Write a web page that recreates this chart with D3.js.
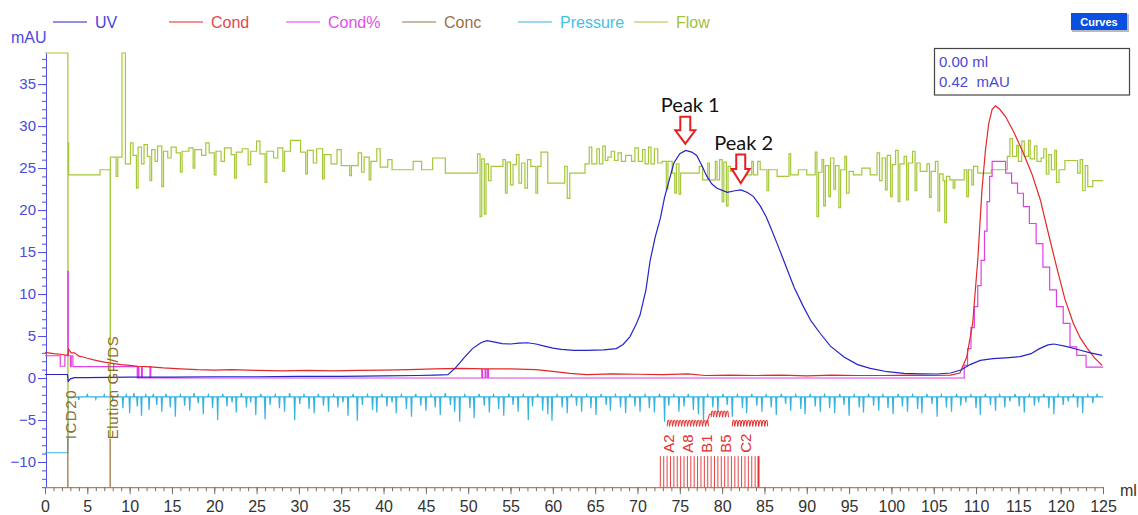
<!DOCTYPE html>
<html>
<head>
<meta charset="utf-8">
<script src="https://cdn.jsdelivr.net/npm/d3@7/dist/d3.min.js"></script>
<style>
    body { margin: 0; background: #fff; }
    svg { font-family: "Liberation Sans", Arial, sans-serif; }
</style>
</head>
<body>
<svg id="chart" width="1138" height="515"></svg>
<script>
// ---- data (ml, value) ----
const uv = [[0,0.42],[2.65,0.42],[2.75,-0.4],[3,-0.1],[3.5,0.05],[5,0.05],[10,0.1],[15,0.1],[20,0.15],[25,0.15],[30,0.2],[35,0.2],[40,0.25],[44,0.3],[46,0.35],[47.6,0.4],[48.5,1.2],[49.5,2.4],[50.5,3.5],[51.5,4.2],[52.2,4.45],[53,4.3],[54,4.1],[55,4.05],[56,4.15],[57,4.2],[58,4.05],[59,3.8],[60,3.55],[61,3.4],[62.5,3.3],[64,3.3],[66,3.35],[67.5,3.5],[68.3,4.0],[69.1,4.9],[69.8,6.3],[70.3,7.5],[71,10.5],[71.5,14],[72.1,16.8],[72.7,19],[73.2,21.5],[73.6,23],[74.3,25.6],[75,26.7],[75.7,27.1],[76.4,26.9],[77,26.5],[77.6,25.3],[78.2,24],[78.8,23.1],[79.4,22.6],[80.6,22.1],[81.5,22.3],[82.2,22.4],[83,22.1],[83.7,21.6],[84.5,20.5],[85.2,19.2],[85.7,18],[86.5,16],[87.2,14.2],[87.7,12.9],[88.5,10.8],[89.6,8.5],[90.5,6.8],[91.6,5.3],[92.8,3.8],[94.4,2.5],[96,1.6],[97.5,1.15],[99.5,0.75],[101.5,0.55],[103.5,0.5],[105.4,0.48],[107,0.6],[108.2,0.95],[109.3,1.6],[110.5,2.1],[112,2.3],[113.5,2.4],[115.2,2.55],[116.5,2.9],[117.5,3.5],[118.5,3.95],[119.2,4.05],[120.5,3.8],[122,3.4],[123.5,3.0],[124.9,2.7]];

const cond = [[0,3.05],[1,2.9],[2,2.8],[2.7,2.7],[2.8,3.4],[3.1,3.0],[3.5,3.0],[4,2.6],[4.5,2.5],[5,2.35],[6,2.1],[7,1.9],[8,1.75],[9,1.6],[10,1.5],[11,1.4],[12,1.35],[14,1.2],[16,1.1],[18,1.0],[20,0.95],[22,1.0],[25,0.9],[28,0.85],[31,0.9],[34,0.85],[37,0.9],[40,0.95],[43,1.0],[46,1.1],[49,1.15],[52,1.1],[55,1.1],[58,1.0],[60,0.8],[62,0.55],[64,0.4],[67,0.5],[70,0.45],[73,0.4],[76,0.5],[78,0.3],[81,0.35],[84,0.3],[87,0.35],[90,0.25],[93,0.35],[96,0.3],[99,0.3],[102,0.35],[105,0.3],[107,0.35],[108.1,0.6],[108.9,2.5],[109.6,6.5],[110.2,14],[110.7,22.4],[111.1,27],[111.5,30.3],[111.9,32.0],[112.3,32.4],[112.8,32.0],[113.5,31.1],[114.5,29.2],[115.5,27.0],[116.6,24.3],[117.6,21.2],[118.6,17],[119.6,12.9],[120.5,9.4],[121.5,6.5],[122.3,4.8],[123.1,3.6],[124,2.4],[124.9,1.5]];

const condPct = [[0,2.65],[1.8,1.4],[2.35,2.65],[2.7,12.7],[2.75,2.65],[3.0,1.35],[3.1,2.65],[3.3,1.35],[10.9,0],[11.0,1.35],[11.1,0],[11.4,1.35],[11.5,0],[12.4,1.35],[12.5,0],[51.6,1.0],[51.7,0],[52.0,1.0],[52.1,0],[52.3,1.0],[52.4,0],[108.6,1.5],[109.0,3.5],[109.4,6],[109.8,8.5],[110.2,11],[110.6,14],[111.0,17.5],[111.3,21],[111.6,24],[111.9,25.8],[113.5,24.4],[114.2,23.2],[114.9,22],[115.6,20.4],[116.3,18.4],[117.1,16],[117.9,13.2],[118.7,10.5],[119.5,8.5],[120.3,6.5],[121.1,3.7],[121.9,2.7],[123.0,1.3],[125,1.3]];

const flow = [[0,38.7],[2.7,-7],[2.72,28],[2.8,24.2],[6.5,24.8],[7.7,-7],[7.72,26.3],[8.4,24],[8.6,26.3],[9.1,38.7],[9.5,25.5],[10.1,28],[10.4,26.5],[10.8,22.6],[11.0,27.5],[11.4,25.5],[11.7,27.8],[12.1,26.4],[12.4,23.5],[12.6,27.2],[13.0,25.8],[13.3,27.6],[13.8,22.8],[14.0,27],[14.5,26.2],[14.9,27.5],[15.5,26.8],[16.0,24.5],[16.2,27],[17.0,27.4],[17.5,25],[17.7,27.2],[18.5,26.5],[19.0,28],[19.4,26.8],[20.0,24.2],[20.2,27],[20.8,25.8],[21.2,27.4],[22.0,26.6],[22.4,23.8],[22.6,26.9],[23.3,27.3],[24.0,25.4],[24.3,27],[25.0,28.2],[25.4,26.7],[26.0,23.3],[26.2,27],[27.0,26.2],[27.5,27.4],[28.1,24.6],[28.3,27],[29.0,28.3],[30.2,26.9],[30.8,24.3],[31.0,27.1],[31.7,25.6],[32.1,27.3],[32.8,23.7],[33.0,26.6],[33.8,25.5],[34.5,27.2],[35.0,25.3],[36.0,24.1],[36.2,25.3],[37.0,26.8],[37.4,24.5],[37.7,26.3],[38.3,23.6],[38.5,25.8],[39.2,27.3],[39.6,25.1],[40.5,26],[41.0,24.8],[43.5,25.8],[44.5,24.8],[45.8,26.2],[47.3,24.4],[51.1,26.7],[51.4,19.2],[51.6,26.1],[51.9,19.5],[52.1,25.5],[52.4,23.5],[52.7,25.2],[54.1,26],[54.4,22],[54.6,25.7],[55,23],[55.3,25.4],[55.7,26.6],[56,23.2],[56.3,25.6],[56.7,22.6],[57,26],[57.4,25.2],[58,22],[58.2,25.2],[58.6,26.9],[59.4,23.2],[61.4,25.2],[61.7,21.4],[62,24.4],[63.8,25.5],[64.3,27.5],[64.6,25.5],[65.2,27.3],[65.5,25.5],[65.9,27.6],[66.2,25.9],[66.5,26.3],[66.9,27],[67.3,25.9],[67.7,26.8],[68.1,25.8],[68.6,26.5],[69.3,25.8],[69.7,27.4],[70.1,25.8],[70.6,27.2],[70.9,25.5],[71.3,27.5],[71.6,25.5],[72.0,27.3],[72.4,25.6],[72.9,25.8],[73.4,22.5],[73.6,25.8],[74.1,24.4],[74.4,22],[74.6,25.5],[74.9,21.9],[75.1,24.4],[77.3,25.2],[77.7,23.6],[78.3,25.6],[78.5,23.6],[79.2,25.8],[79.4,23.6],[79.7,26],[80,21],[80.2,25.7],[80.5,20.5],[80.7,25.2],[81,24.6],[83,24.2],[83.5,25.8],[83.7,24.2],[84.2,25.8],[84.5,24.8],[85.3,22.3],[85.5,24.8],[86.5,24],[87.9,26.7],[88.1,24.2],[89,24.8],[90,24.2],[91,26.9],[91.2,19.2],[91.4,24.5],[91.8,26],[92,20.5],[92.2,25.3],[92.6,21.6],[92.8,26.2],[93.2,22.5],[93.4,25.3],[93.8,20.3],[94,24.8],[94.5,26.4],[94.7,22],[95,24.6],[95.5,24.2],[96.5,25],[97.5,24.2],[98.3,26.8],[98.6,23.5],[98.9,26.2],[99.3,22.4],[99.5,26.5],[99.9,21.6],[100.1,25.4],[100.5,27.1],[100.8,21],[101,25.5],[101.5,26.4],[101.8,21.2],[102,25.6],[102.5,27],[102.8,22.3],[103,25.6],[103.4,24.6],[104.2,25.5],[104.5,21.5],[104.7,24.6],[105.2,25.8],[105.5,19.9],[105.7,24.3],[106.1,23.5],[106.3,18.5],[106.5,24],[106.9,23.6],[107.3,22.6],[107.5,23.6],[108.6,24.8],[108.9,21.6],[109.1,24.8],[109.5,23],[109.7,25.2],[110.2,24.4],[111.8,24.8],[113.7,26.4],[114.0,28.5],[114.3,26.4],[114.8,27.7],[115,25.8],[115.4,28.2],[115.7,26.4],[116.2,28.3],[116.4,26.1],[116.9,27.6],[117.2,25.8],[117.7,26.2],[118,27.3],[118.3,24.3],[118.6,26.6],[118.9,24.8],[119.3,27.1],[119.5,23.3],[119.8,24.8],[120.5,25.9],[122,24.4],[122.3,26],[122.6,22.3],[122.9,25.3],[123.2,22.8],[123.8,23.5],[125,23.5]];

// pressure: a flat level with narrow spikes
const pressureStart = [[0,-8.9],[2.68,-8.9],[2.7,-7.8],[2.75,-2.3]];
const pressureBase = -2.25;
const pressureSpikes = [[4,-2.6],[5,-1.9],[6,-2.5],[7,-2.0],[8,-2.6],[8.6,-1.9],[9.2,-3.6],[9.6,-2.0],[10.0,-4.2],[10.5,-1.8],[10.9,-3.4],[11.4,-4.5],[11.9,-2.0],[12.3,-3.8],[12.8,-1.9],[13.2,-3.2],[13.8,-4.0],[14.3,-1.9],[14.8,-3.5],[15.4,-4.6],[16.0,-2.0],[16.5,-3.3],[17.1,-3.9],[17.6,-1.8],[18.1,-3.0],[18.7,-4.3],[19.3,-2.0],[19.8,-3.6],[20.4,-5.0],[21.0,-1.9],[21.5,-3.4],[22.1,-2.9],[22.6,-4.1],[23.2,-1.8],[23.8,-3.5],[24.3,-2.9],[24.9,-4.4],[25.5,-1.9],[26.0,-4.9],[26.6,-3.2],[27.2,-2.0],[27.7,-3.6],[28.3,-4.0],[28.9,-1.8],[29.5,-5.0],[30.1,-3.1],[30.6,-2.0],[31.2,-3.7],[31.8,-4.2],[32.3,-1.9],[32.9,-3.3],[33.5,-4.0],[34.1,-2.0],[34.6,-3.5],[35.2,-2.9],[35.8,-4.5],[36.4,-1.9],[36.9,-5.1],[37.5,-3.2],[38.1,-2.0],[38.7,-3.8],[39.2,-4.1],[39.8,-1.9],[40.4,-3.4],[41.0,-2.9],[41.5,-4.2],[42.1,-2.0],[42.7,-3.7],[43.3,-4.6],[43.8,-1.9],[44.4,-3.3],[45.0,-3.9],[45.6,-2.0],[46.1,-3.5],[46.7,-4.4],[47.3,-1.8],[47.9,-3.2],[48.4,-4.0],[49.0,-5.2],[49.6,-2.0],[50.2,-3.6],[50.7,-4.8],[51.3,-1.9],[51.9,-3.3],[52.5,-4.1],[53.0,-2.0],[53.6,-3.7],[54.2,-4.5],[54.8,-1.9],[55.3,-3.2],[55.9,-4.0],[56.5,-2.0],[57.1,-5.0],[57.6,-3.4],[58.2,-1.9],[58.8,-3.9],[59.4,-4.3],[59.9,-5.1],[60.5,-2.0],[61.1,-3.5],[61.7,-4.2],[62.2,-1.9],[62.8,-3.3],[63.4,-4.0],[64.0,-2.0],[64.5,-3.6],[65.1,-4.4],[65.7,-1.9],[66.3,-3.2],[66.8,-3.9],[67.4,-2.0],[68.0,-3.5],[68.6,-4.2],[69.1,-1.9],[69.7,-3.4],[70.3,-4.0],[70.9,-2.0],[71.4,-3.6],[72.0,-4.1],[72.6,-1.9],[73.2,-5.2],[73.7,-3.3],[74.3,-2.0],[74.9,-4.0],[75.5,-3.4],[76.0,-1.9],[76.6,-3.8],[77.2,-4.3],[77.8,-5.0],[78.3,-2.0],[78.9,-3.5],[79.5,-4.1],[80.1,-1.9],[80.6,-3.2],[81.2,-4.6],[81.8,-2.0],[82.4,-3.6],[82.9,-4.2],[83.5,-1.9],[84.1,-3.3],[84.7,-4.0],[85.2,-2.0],[85.8,-3.5],[86.4,-4.4],[87.0,-1.9],[87.5,-3.1],[88.1,-3.9],[88.7,-2.0],[89.3,-3.7],[89.8,-4.3],[90.4,-1.9],[91.0,-3.4],[91.6,-4.0],[92.1,-2.0],[92.7,-3.6],[93.3,-4.2],[93.9,-1.9],[94.4,-3.2],[95.0,-4.5],[95.6,-2.0],[96.2,-3.5],[96.7,-4.1],[97.3,-1.9],[97.9,-3.3],[98.5,-3.9],[99.0,-2.0],[99.6,-3.6],[100.2,-4.3],[100.8,-1.9],[101.3,-3.4],[101.9,-4.0],[102.5,-2.0],[103.1,-3.7],[103.6,-4.2],[104.2,-1.9],[104.8,-3.1],[105.4,-4.6],[105.9,-2.0],[106.5,-3.5],[107.1,-4.0],[107.7,-1.9],[108.2,-3.3],[108.8,-2.9],[109.4,-2.0],[110.0,-3.6],[110.5,-4.4],[111.1,-1.9],[111.7,-3.2],[112.3,-3.9],[112.8,-2.0],[113.4,-3.5],[114.0,-2.8],[114.6,-1.9],[115.1,-3.4],[115.7,-4.1],[116.3,-2.0],[116.9,-3.3],[117.4,-2.9],[118.0,-1.9],[118.6,-3.6],[119.2,-4.3],[119.7,-2.0],[120.3,-3.2],[120.9,-2.8],[121.5,-1.9],[122.0,-3.5],[122.6,-4.2],[123.2,-2.0],[123.8,-3.0],[124.3,-1.9]];

// fractions collected (ml) and the few labels that are printed
const fractionMl = [72.7,73.1,73.5,73.9,74.3,74.7,75.1,75.5,75.9,76.3,76.7,77.1,77.5,77.9,78.3,78.7,79.1,79.5,79.9,80.3,80.7,81.1,81.5,81.9,82.3,82.7,83.1,83.5,83.9,84.3];
const fractionLabels = [["A2",73.7],["A8",75.9],["B1",78.1],["B5",80.4],["C2",82.8]];
const events = [["ICD20",2.7],["Elution GF/DS",7.7]];
const peaks = [["Peak 1",75.65],["Peak 2",82.2]];

const legendNames = ["UV","Cond","Cond%","Conc","Pressure","Flow"];
const yMajor = [-10,-5,0,5,10,15,20,25,30,35];
const xMajor = [0,5,10,15,20,25,30,35,40,45,50,55,60,65,70,75,80,85,90,95,100,105,110,115,120,125];

// ---- drawing ----
const colors = {UV:"#2424c8", Cond:"#e42828", "Cond%":"#e040e4", Conc:"#a07444", Pressure:"#34b4e0", Flow:"#a4c838"};
const textColors = {UV:"#4646e0", Cond:"#e44848", "Cond%":"#e050e6", Conc:"#9a7048", Pressure:"#46c0e6", Flow:"#a4c040"};

const svg = d3.select("#chart");
const x = d3.scaleLinear().domain([0, 125]).range([45, 1103]);
const y = d3.scaleLinear().domain([-13, 38.7]).range([487.2, 53]);

// y axis: minor every 1, major every 5
svg.append("g")
   .attr("transform", "translate(46,0)")
   .call(d3.axisLeft(y).tickValues(d3.range(-13, 39)).tickSize(4).tickSizeOuter(0).tickFormat(""))
   .call(g => g.selectAll("line,path").attr("stroke", "#5050e4"));
svg.append("g")
   .attr("transform", "translate(46,0)")
   .call(d3.axisLeft(y).tickValues(yMajor).tickSize(8).tickSizeOuter(0).tickPadding(2))
   .call(g => g.select("path").remove())
   .call(g => g.selectAll("line").attr("stroke", "#5050e4"))
   .call(g => g.selectAll("text").attr("fill", "#4a4ae0").style("font-size", "15px")
                .style("font-family", "'Liberation Sans', Arial, sans-serif"));

// x axis
svg.append("g")
   .attr("transform", "translate(0,487.2)")
   .call(d3.axisBottom(x).tickValues(d3.range(0, 126)).tickSize(4).tickSizeOuter(0).tickFormat(""))
   .call(g => g.select("path").attr("stroke", "#b8844c").attr("stroke-width", 1.3))
   .call(g => g.selectAll("line").attr("stroke", "#707070"));
svg.append("g")
   .attr("transform", "translate(0,487.2)")
   .call(d3.axisBottom(x).tickValues(xMajor).tickSize(7).tickSizeOuter(0).tickPadding(6))
   .call(g => g.select("path").remove())
   .call(g => g.selectAll("line").attr("stroke", "#707070"))
   .call(g => g.selectAll("text").attr("fill", "#333").style("font-size", "16px")
                .style("font-family", "'Liberation Sans', Arial, sans-serif"));
svg.append("text").attr("x", 1120).attr("y", 496).attr("fill", "#333")
   .style("font-size", "16px").text("ml");

// curves
const line = d3.line().x(d => x(d[0])).y(d => y(d[1]));
const stepLine = d3.line().x(d => x(d[0])).y(d => y(d[1])).curve(d3.curveStepAfter);

let pressure = pressureStart.slice();
pressureSpikes.forEach(function(s) {
    pressure.push([s[0] - 0.07, pressureBase], [s[0], s[1]], [s[0] + 0.07, pressureBase]);
});
pressure.push([125, pressureBase]);

function curve(data, gen, name) {
    svg.append("path").datum(data)
       .attr("d", gen)
       .attr("fill", "none")
       .attr("stroke", colors[name])
       .attr("stroke-width", 1.2);
}
curve(pressure, line, "Pressure");
curve(flow, stepLine, "Flow");
curve(condPct, stepLine, "Cond%");
curve(cond, line, "Cond");
curve(uv, line, "UV");

// run events (brown marker lines with rotated text)
events.forEach(function(e) {
    let ex = x(e[1]);
    svg.append("line")
       .attr("x1", ex).attr("x2", ex)
       .attr("y1", y(-13)).attr("y2", y(-7.2))
       .attr("stroke", colors.Conc).attr("stroke-width", 1.3);
    svg.append("text")
       .attr("transform", "translate(" + (ex + 8) + "," + y(-7.3) + ") rotate(-90)")
       .attr("fill", "#8c6a3c")
       .style("font-size", "15px")
       .style("letter-spacing", e[0] === "ICD20" ? "1.6px" : "0.6px")
       .text(e[0]);
});

// fractions
svg.append("g").selectAll("line")
   .data(fractionMl)
   .enter().append("line")
   .attr("x1", d => x(d)).attr("x2", d => x(d))
   .attr("y1", y(-13)).attr("y2", y(-9.3))
   .attr("stroke", "#e43030")
   .attr("stroke-width", (d, i) => i === fractionMl.length - 1 ? 2 : 0.9);
svg.append("g").selectAll("text")
   .data(fractionLabels)
   .enter().append("text")
   .attr("transform", d => "translate(" + (x(d[1]) + 5.5) + "," + y(-8.9) + ") rotate(-90)")
   .attr("fill", "#e43030")
   .style("font-size", "15px")
   .text(d => d[0]);

// crowded fraction labels squeezed into little waves
function squiggle(x0, x1, yc) {
    let p = d3.path();
    p.moveTo(x0, yc + 3);
    for (let px = x0; px < x1; px += 3) {
        p.lineTo(px + 0.7, yc - 3);
        p.lineTo(px + 1.8, yc - 3);
        p.lineTo(px + 2.4, yc + 3);
    }
    return p.toString();
}
[[73.5, 78.2, -5.4], [78.7, 80.8, -4.3], [81.2, 85.3, -5.4]].forEach(function(s) {
    svg.append("path")
       .attr("d", squiggle(x(s[0]), x(s[1]), y(s[2])))
       .attr("fill", "none").attr("stroke", "#e43030").attr("stroke-width", 1);
});
svg.append("path")
   .attr("d", "M" + x(78.2) + "," + y(-5.4) + " L" + x(78.5) + "," + y(-4.3) + " L" + x(78.75) + "," + y(-4.3))
   .attr("fill", "none").attr("stroke", "#e43030").attr("stroke-width", 1);

// peak annotations
function arrow(cx, top, tip, sw, hw) {
    let neck = tip - (tip - top) * 0.5;
    return "M" + (cx - sw) + "," + top + " H" + (cx + sw) + " V" + neck + " H" + (cx + hw) +
           " L" + cx + "," + tip + " L" + (cx - hw) + "," + neck + " H" + (cx - sw) + " Z";
}
peaks.forEach(function(p, i) {
    let cx = x(p[1]);
    let big = i === 0;
    let top = big ? y(31.1) : y(26.6);
    let tip = big ? y(27.9) : y(23.2);
    svg.append("path")
       .attr("d", arrow(cx, top, tip, big ? 5 : 4.5, big ? 10 : 9))
       .attr("fill", "#fff").attr("stroke", "#e42020").attr("stroke-width", 2);
    svg.append("text")
       .attr("x", cx + (big ? 5 : 3)).attr("y", top - 5)
       .attr("text-anchor", "middle")
       .attr("fill", "#111")
       .style("font-family", "Lato, 'Open Sans', sans-serif")
       .style("font-size", "20px")
       .text(p[0]);
});

// legend
svg.append("text").attr("x", 11).attr("y", 43).attr("fill", "#4a4ae0")
   .style("font-size", "16px").text("mAU");
const legendX = [53, 169, 286, 402, 518, 634];
legendNames.forEach(function(n, i) {
    svg.append("line")
       .attr("x1", legendX[i]).attr("x2", legendX[i] + 34)
       .attr("y1", 22).attr("y2", 22)
       .attr("stroke", colors[n]).attr("stroke-width", 1.2);
    svg.append("text")
       .attr("x", legendX[i] + 42).attr("y", 28)
       .attr("fill", textColors[n])
       .style("font-size", "16px")
       .text(n);
});

// "Curves" button
svg.append("rect").attr("x", 1072).attr("y", 14).attr("width", 57).attr("height", 18).attr("fill", "#b8b8c0");
svg.append("rect").attr("x", 1071).attr("y", 13).attr("width", 56).attr("height", 17).attr("fill", "#0a4fe0");
svg.append("text").attr("x", 1099).attr("y", 26).attr("text-anchor", "middle")
   .attr("fill", "#fff").style("font-size", "11px").style("font-weight", "bold").text("Curves");

// cursor readout box
svg.append("rect").attr("x", 934.5).attr("y", 48.5).attr("width", 195).attr("height", 46.5)
   .attr("fill", "#fff").attr("stroke", "#444").attr("stroke-width", 1.2);
svg.append("text").attr("x", 939).attr("y", 67).attr("fill", "#4848d8").style("font-size", "15px").text("0.00 ml");
svg.append("text").attr("x", 939).attr("y", 87).attr("fill", "#4848d8").style("font-size", "15px")
   .attr("xml:space", "preserve").text("0.42  mAU");
</script>
</body>
</html>
